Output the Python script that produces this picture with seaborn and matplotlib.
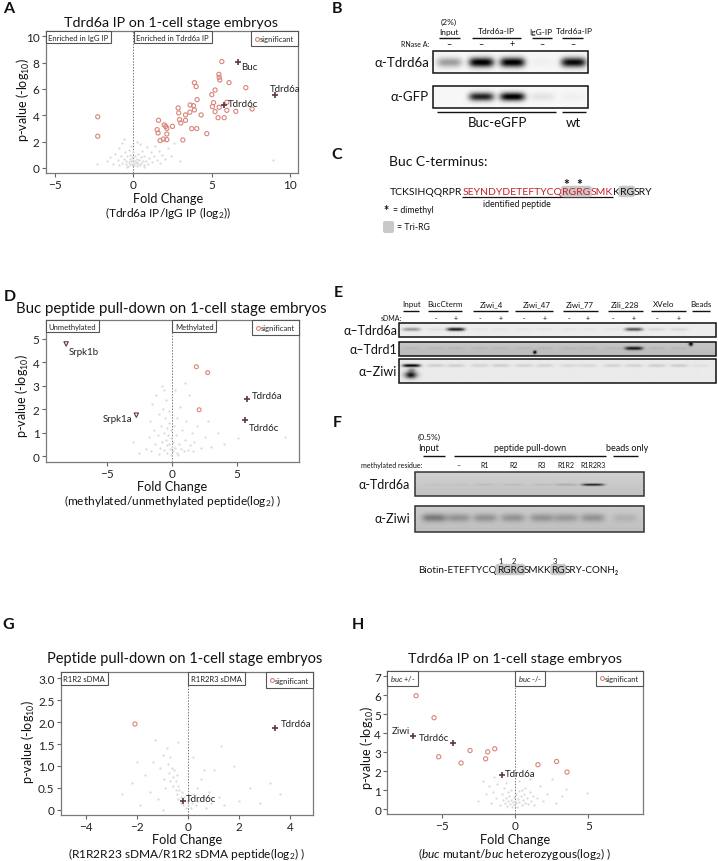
import numpy as np
import pandas as pd
import matplotlib
matplotlib.use('Agg')
import matplotlib.pyplot as plt
import seaborn as sns
from matplotlib.patches import Rectangle, FancyBboxPatch
from matplotlib.lines import Line2D

sns.set_theme(style='white')
plt.rcParams['font.family'] = ['Lato', 'DejaVu Sans']
plt.rcParams['mathtext.fontset'] = 'custom'
plt.rcParams['mathtext.rm'] = 'Lato'
plt.rcParams['mathtext.it'] = 'Lato:italic'
plt.rcParams['mathtext.bf'] = 'Lato:bold'

# ------------------------------------------------------------------ data
# Panel A : Tdrd6a IP vs IgG IP
A_gray_x = [-1.7,-1.5,-1.3,-1.2,-1.0,-0.9,-0.9,-0.8,-0.7,-0.7,-0.6,-0.55,-0.5,-0.45,-0.4,-0.35,-0.3,-0.3,
            -0.25,-0.2,-0.2,-0.15,-0.1,-0.1,-0.05,0.0,0.0,0.05,0.1,0.1,0.15,0.2,0.2,0.25,0.3,0.3,0.35,0.4,
            0.45,0.5,0.55,0.6,0.65,0.7,0.8,0.85,0.9,1.0,1.1,1.2,1.3,1.4,1.5,1.6,1.7,1.8,1.9,2.0,2.2,2.4,
            2.6,3.0,-2.3,-0.6,0.4,8.9,-0.15,0.7,-0.4,0.25]
A_gray_y = [0.5,0.8,0.3,1.1,0.6,1.5,0.2,0.9,0.4,1.9,0.7,1.2,0.3,0.55,0.9,0.15,0.45,1.4,
            0.7,0.3,1.0,0.55,0.2,0.8,0.4,0.6,1.2,0.25,0.5,0.9,0.35,0.7,0.15,0.45,1.1,0.3,0.6,0.2,
            0.85,0.4,1.3,0.55,0.25,0.9,0.5,1.6,0.3,0.75,1.2,0.45,0.9,1.7,0.6,1.3,0.35,1.0,2.1,0.7,1.5,0.9,
            1.9,0.5,0.3,2.2,1.8,0.6,1.7,0.1,0.05,2.0]
A_sig_x = [-2.28,-2.28,5.64,5.45,5.47,5.51,3.89,4.0,6.1,7.17,5.21,5.0,4.06,5.96,5.11,5.04,5.47,5.96,7.57,
           6.53,2.85,3.62,3.83,2.89,3.89,3.6,3.32,4.32,5.21,5.4,5.79,1.6,2.94,3.32,3.02,1.51,1.57,1.96,
           2.06,2.13,2.13,2.49,3.72,4.04,4.68,1.7,1.91,2.13,3.15]
A_sig_y = [3.89,2.41,8.08,7.11,6.89,6.68,6.48,6.18,6.48,6.1,5.92,5.57,5.19,4.99,4.96,4.66,4.61,4.38,4.48,
           4.30,4.56,4.78,4.73,4.18,4.41,4.23,4.03,4.03,4.28,3.82,3.82,3.62,3.67,3.62,3.42,2.91,2.66,3.27,
           3.16,3.01,2.58,3.16,2.99,2.99,2.61,2.08,2.2,2.15,2.13]
A_hit_names = ['Buc', 'Tdrd6a', 'Tdrd6c']
A_hit_x = [6.64, 9.02, 5.79]
A_hit_y = [8.08, 5.52, 4.81]

# Panel D : Buc peptide pull-down
D_gray_x = [-2.0,-1.8,-1.7,-1.6,-1.5,-1.4,-1.3,-1.2,-1.1,-1.0,-0.9,-0.85,-0.8,-0.75,-0.7,-0.65,-0.6,-0.55,
            -0.5,-0.45,-0.4,-0.4,-0.35,-0.3,-0.25,-0.2,-0.2,-0.15,-0.1,-0.05,0.0,0.05,0.1,0.15,0.2,0.3,0.35,
            0.4,0.5,0.6,0.7,0.8,0.9,1.0,1.1,1.2,1.3,1.4,1.5,1.6,1.7,1.9,2.2,2.5,3.0,3.5,4.0,5.1,8.7,-2.5,
            -3.0,0.25,-0.6,1.0,2.8,0.45,-0.1,-1.0]
D_gray_y = [0.3,0.8,1.5,0.2,2.2,1.1,0.5,2.6,0.9,1.8,0.35,1.3,3.0,0.6,2.0,1.0,0.25,1.6,
            0.7,2.4,0.45,1.2,0.15,0.9,1.9,0.5,1.4,0.3,0.75,1.1,0.4,0.2,0.6,1.3,0.35,0.9,0.15,
            1.6,0.5,2.1,0.3,1.1,0.2,0.7,1.5,0.25,2.6,0.45,1.0,0.2,0.6,1.3,0.35,0.8,0.4,1.0,0.5,0.75,0.82,0.15,
            0.6,2.8,2.8,3.1,1.5,0.05,0.05,0.1]
D_sig_x = [1.87, 2.74, 2.08]
D_sig_y = [3.80, 3.55, 1.97]
D_tri_names = ['Srpk1b', 'Srpk1a']
D_tri_x = [-8.13, -2.74]
D_tri_y = [4.77, 1.74]
D_hit_names = ['Tdrd6a', 'Tdrd6c']
D_hit_x = [5.72, 5.59]
D_hit_y = [2.41, 1.55]

# Panel G : R1R2R3 vs R1R2 sDMA peptide
G_gray_x = [-2.6,-2.2,-1.9,-1.7,-1.5,-1.4,-1.2,-1.1,-1.0,-0.95,-0.9,-0.85,-0.8,-0.75,-0.7,-0.7,-0.65,-0.6,
            -0.6,-0.55,-0.5,-0.5,-0.45,-0.45,-0.4,-0.4,-0.35,-0.3,-0.3,-0.25,-0.2,-0.15,-0.1,-0.05,0.0,0.05,
            0.1,0.15,0.2,0.3,0.35,0.4,0.5,0.6,0.7,0.8,0.9,1.0,1.2,1.4,1.8,2.0,2.4,2.8,3.2,3.6,-1.3,-0.4,0.2,
            -2.0,-1.0,0.6,1.3]
G_gray_y = [0.35,0.6,0.1,0.8,0.4,1.1,0.25,0.95,1.25,0.7,0.5,1.4,1.05,0.85,0.65,1.2,0.95,0.75,
            0.55,0.9,0.45,0.65,0.8,0.35,0.55,0.25,0.45,0.3,0.15,0.4,0.1,0.3,0.05,0.2,0.1,0.25,
            0.05,0.15,0.35,0.1,0.5,0.2,0.7,0.3,0.05,0.4,0.15,0.9,0.3,0.1,1.0,0.2,0.5,0.15,0.6,0.35,1.6,1.55,1.2,
            1.1,0.0,0.9,1.45]
G_sig_x = [-2.09]
G_sig_y = [1.96]
G_hit_names = ['Tdrd6a', 'Tdrd6c']
G_hit_x = [3.38, -0.2]
G_hit_y = [1.86, 0.2]

# Panel H : buc mutant vs heterozygous
H_gray_x = [-2.5,-2.2,-2.0,-1.8,-1.6,-1.5,-1.3,-1.2,-1.0,-0.9,-0.8,-0.75,-0.7,-0.6,-0.55,-0.5,-0.45,-0.4,
            -0.35,-0.3,-0.25,-0.2,-0.15,-0.1,-0.05,0.0,0.05,0.1,0.15,0.2,0.25,0.3,0.4,0.45,0.5,0.55,0.6,0.65,
            0.7,0.8,0.9,1.0,1.1,1.2,1.3,1.5,1.7,1.9,2.2,2.5,2.8,3.2,3.5,4.9,1.0,-1.4,0.3,-0.6]
H_gray_y = [0.4,1.5,0.8,1.2,0.3,0.9,0.6,1.3,0.2,0.8,0.5,1.1,0.3,0.6,0.15,0.9,0.4,0.7,
            0.25,1.0,0.5,0.1,0.35,0.65,0.2,0.45,0.8,0.3,0.1,0.55,0.95,0.35,0.7,0.2,1.0,0.5,0.8,0.3,
            1.1,0.6,0.25,0.9,0.45,0.7,0.2,0.6,1.2,0.4,0.8,1.6,0.3,0.7,1.05,0.85,1.6,1.7,1.5,1.4]
H_sig_x = [-6.73,-5.51,-5.19,-3.67,-3.06,-2.0,-1.86,-1.38,1.56,2.83,3.54]
H_sig_y = [5.98,4.82,2.76,2.43,3.09,2.65,3.02,3.18,2.34,2.51,1.95]
H_hit_names = ['Ziwi', 'Tdrd6c', 'Tdrd6a']
H_hit_x = [-6.96, -4.24, -0.88]
H_hit_y = [3.88, 3.48, 1.81]

# Blot band intensities (0 = none, 1 = saturated)
B_lane_labels = ['Input', 'Tdrd6a-IP', 'IgG-IP', 'Tdrd6a-IP']
B_rnase = ['–', '–', '+', '–', '–']
B_tdrd6a = [0.35, 1.0, 1.0, 0.03, 0.95]
B_gfp = [0.0, 0.85, 1.0, 0.08, 0.03]
E_cols = ['Input', 'BucCterm', 'Ziwi_4', 'Ziwi_47', 'Ziwi_77', 'Zili_228', 'XVelo', 'Beads']
E_sdma = ['-', '+', '-', '+', '-', '+', '-', '+', '-', '+', '-', '+']
E_tdrd6a = [0.35, 0.05, 0.85, 0.03, 0.03, 0.03, 0.03, 0.03, 0.03, 0.03, 0.6, 0.08, 0.08, 0.0]
E_tdrd1 = [0.04, 0.04, 0.04, 0.04, 0.04, 0.04, 0.04, 0.04, 0.04, 0.04, 0.7, 0.04, 0.04, 0.0]
E_ziwi = [0.95, 0.12, 0.12, 0.1, 0.12, 0.1, 0.1, 0.08, 0.08, 0.1, 0.1, 0.12, 0.12, 0.05]
F_lanes = ['–', 'R1', 'R2', 'R3', 'R1R2', 'R1R2R3']
F_tdrd6a = [0.03, 0.03, 0.05, 0.05, 0.05, 0.12, 0.7, 0.0]
F_ziwi = [0.3, 0.2, 0.2, 0.2, 0.2, 0.18, 0.2, 0.08]

# ------------------------------------------------------------------ figure
W, H = 718, 862
fig = plt.figure(figsize=(W / 100, H / 100), dpi=100)

RED = '#d8857a'
GRAYPT = '#d9d9d9'
HIT = '#5b3b3b'


def px_axes(l, t, r, b):
    return fig.add_axes([l / W, 1 - b / H, (r - l) / W, (b - t) / H])


def style_axes(ax, xlim, ylim, xt, yt, ytl=None):
    ax.set_xlim(*xlim)
    ax.set_ylim(*ylim)
    ax.set_xticks(xt)
    ax.set_yticks(yt)
    if ytl:
        ax.set_yticklabels(ytl)
    ax.tick_params(direction='out', length=3, width=0.8, color='#666', labelsize=8.5,
                   pad=1.5, left=True, bottom=True, labelcolor='#222')
    for sp in ax.spines.values():
        sp.set_color('#7a7a7a')
        sp.set_linewidth(0.9)
    ax.axvline(0, color='#777', ls=(0, (1.5, 1.5)), lw=0.7, zorder=1)
    ax.set_xlabel('')
    ax.set_ylabel('')


def region_box(ax, text, x, data_x=False):
    xyc = ('data', 'axes fraction') if data_x else 'axes fraction'
    ax.annotate(text, xy=(x, 1), xycoords=xyc, xytext=(2.0, -2.0), textcoords='offset points',
                ha='left', va='top', fontsize=5.5, color='#222', zorder=6,
                bbox=dict(boxstyle='square,pad=0.35', fc='white', ec='#555', lw=0.8))


def sig_legend(ax):
    h = Line2D([], [], marker='o', ls='', mfc='none', mec=RED, ms=2.8, mew=0.8)
    leg = ax.legend(handles=[h], labels=['significant'], loc='upper right', frameon=True,
                    fancybox=False, edgecolor='#555', fontsize=5.5, borderaxespad=0,
                    handlelength=0.5, handletextpad=0.1, borderpad=0.55, framealpha=1)
    leg.get_frame().set_linewidth(0.8)


def volcano(ax, gx, gy, sx, sy, hx, hy):
    sns.scatterplot(x=gx, y=gy, ax=ax, color=GRAYPT, s=2.5, linewidth=0, legend=False, zorder=2)
    sns.scatterplot(x=sx, y=sy, ax=ax, marker='o', s=9, facecolors='none', edgecolor=RED,
                    linewidth=0.8, legend=False, zorder=3)
    sns.scatterplot(x=hx, y=hy, ax=ax, marker='+', s=18, color=HIT, linewidth=1.2,
                    legend=False, zorder=4)


def label_points(ax, names, xs, ys, offs):
    for n, x, y, (dx, dy, ha) in zip(names, xs, ys, offs):
        ax.annotate(n, xy=(x, y), xytext=(dx, dy), textcoords='offset pixels', ha=ha,
                    va='center', fontsize=7, color='#222', zorder=5)


# ---- A
axA = px_axes(45.7, 32, 298, 174)
volcano(axA, A_gray_x, A_gray_y, A_sig_x, A_sig_y, A_hit_x, A_hit_y)
style_axes(axA, (-5.6, 10.5), (-0.38, 10.4), [-5, 0, 5, 10], [0, 2, 4, 6, 8, 10])
label_points(axA, A_hit_names, A_hit_x, A_hit_y, [(4, -5, 'left'), (10, 7, 'center'), (4, 1, 'left')])
region_box(axA, 'Enriched in IgG IP', 0)
region_box(axA, 'Enriched in Tdrd6a IP', 0, data_x=True)
sig_legend(axA)

# ---- D
axD = px_axes(45.7, 321, 299, 462.7)
sns.scatterplot(x=D_gray_x, y=D_gray_y, ax=axD, color=GRAYPT, s=2.5, linewidth=0, legend=False, zorder=2)
sns.scatterplot(x=D_sig_x, y=D_sig_y, ax=axD, marker='o', s=8, facecolors='none', edgecolor=RED,
                linewidth=0.8, legend=False, zorder=3)
sns.scatterplot(x=D_tri_x, y=D_tri_y, ax=axD, marker='v', s=10, facecolors='none', edgecolor=HIT,
                linewidth=0.8, legend=False, zorder=3)
sns.scatterplot(x=D_hit_x, y=D_hit_y, ax=axD, marker='+', s=16, color=HIT, linewidth=1.2,
                legend=False, zorder=4)
style_axes(axD, (-9.7, 9.75), (-0.24, 5.79), [-5, 0, 5], [0, 1, 2, 3, 4, 5])
label_points(axD, D_tri_names, D_tri_x, D_tri_y, [(3, -8, 'left'), (-4, -3, 'right')])
label_points(axD, D_hit_names, D_hit_x, D_hit_y, [(5, 4, 'left'), (4, -8, 'left')])
region_box(axD, 'Unmethylated', 0)
region_box(axD, 'Methylated', 0, data_x=True)
sig_legend(axD)

# ---- G
axG = px_axes(60.7, 673.3, 313.3, 816)
volcano(axG, G_gray_x, G_gray_y, G_sig_x, G_sig_y, G_hit_x, G_hit_y)
style_axes(axG, (-5.0, 4.9), (-0.12, 3.14), [-4, -2, 0, 2, 4], [0, 0.5, 1, 1.5, 2, 2.5, 3],
           ['0', '0.5', '1.0', '1.5', '2.0', '2.5', '3.0'])
label_points(axG, G_hit_names, G_hit_x, G_hit_y, [(6, 5, 'left'), (3, 2, 'left')])
region_box(axG, 'R1R2 sDMA', 0)
region_box(axG, 'R1R2R3 sDMA', 0, data_x=True)
sig_legend(axG)

# ---- H
axH = px_axes(387.3, 671.7, 643.3, 815)
volcano(axH, H_gray_x, H_gray_y, H_sig_x, H_sig_y, H_hit_x, H_hit_y)
style_axes(axH, (-8.69, 8.73), (-0.26, 7.3), [-5, 0, 5], [0, 1, 2, 3, 4, 5, 6, 7])
label_points(axH, H_hit_names, H_hit_x, H_hit_y, [(-3, 5, 'right'), (-3, 6, 'right'), (3, 1, 'left')])
region_box(axH, r'$\it{buc}$ +/-', 0)
region_box(axH, r'$\it{buc}$ -/-', 0, data_x=True)
sig_legend(axH)

# ------------------------------------------------------------------ overlay (pixel coords)
ov = fig.add_axes([0, 0, 1, 1])
ov.axis('off')
ov.set_xlim(0, W)
ov.set_ylim(H, 0)
ov.set_autoscale_on(False)


def T(x, y, s, fs=9, ha='center', va='center', **kw):
    return ov.text(x, y, s, fontsize=fs, ha=ha, va=va, color=kw.pop('color', '#111'), **kw)


def hline(x0, x1, y, lw=1.0, color='#111'):
    ov.plot([x0, x1], [y, y], color=color, lw=lw, solid_capstyle='butt')


# panel letters
for L, x, y in [('A', 9, 9), ('B', 337, 9), ('C', 337, 155), ('D', 10, 297), ('E', 338, 293),
                ('F', 337, 423), ('G', 8, 625), ('H', 358, 625)]:
    T(x, y, L, fs=11.5, weight='bold')

# titles and axis labels
T(171, 23, 'Tdrd6a IP on 1-cell stage embryos', fs=10.3)
T(171, 309, 'Buc peptide pull-down on 1-cell stage embryos', fs=10.8)
T(184.5, 659, 'Peptide pull-down on 1-cell stage embryos', fs=10.5)
T(515, 659, 'Tdrd6a IP on 1-cell stage embryos', fs=10.3)
ylab = r'p-value (-log$_{10}$)'
T(23.5, 100, ylab, fs=9, rotation=90)
T(22, 396, ylab, fs=9, rotation=90)
T(28, 742, ylab, fs=9, rotation=90)
T(367, 748, ylab, fs=9, rotation=90)
for cx, y1, y2, s in [(167.7, 199, 213.5, r'(Tdrd6a IP/IgG IP (log$_2$))'),
                      (172.3, 487, 501, r'(methylated/unmethylated peptide(log$_2$) )'),
                      (186.7, 840, 854, r'(R1R2R23 sDMA/R1R2 sDMA peptide(log$_2$) )'),
                      (515, 840, 854, r'($\it{buc}$ mutant/$\it{buc}$ heterozygous(log$_2$) )')]:
    T(cx, y1, 'Fold Change', fs=9.2)
    T(cx, y2, s, fs=8.6)


# ------------------------------------------------------------------ blots
def blot(x0, x1, y0, y1, bg, lanes, vals, yc, bw, bh, spots=(), ec='#111', shade=0.0):
    nx, ny = int((x1 - x0) * 4), int((y1 - y0) * 4)
    X, Y = np.meshgrid(np.linspace(x0, x1, nx), np.linspace(y0, y1, ny))
    img = np.full_like(X, bg) - shade * (Y - y0) / (y1 - y0)
    for lx, v in zip(lanes, vals):
        img -= v * np.exp(-((X - lx) / bw) ** 4 - ((Y - yc) / bh) ** 2)
    for sx, sy, rx, ry, v in spots:
        img -= v * np.exp(-((X - sx) / rx) ** 2 - ((Y - sy) / ry) ** 2)
    ov.imshow(np.clip(img, 0, 1), cmap='gray', vmin=0, vmax=1, extent=(x0, x1, y1, y0),
              aspect='auto', interpolation='bilinear', zorder=1)
    ov.add_patch(Rectangle((x0, y0), x1 - x0, y1 - y0, fill=False, ec=ec, lw=1.1, zorder=2))


# ---- B
B_lane_x = [449, 481, 512, 542, 573]
T(449, 22, '(2%)', fs=6)
for s, x in zip(B_lane_labels, [449, 496, 541, 574]):
    T(x, 32, s, fs=6)
for a, b in [(439, 460), (471.7, 521), (531.7, 552.3), (561.7, 583.3)]:
    hline(a, b, 38.5)
T(429, 44.5, 'RNase A:', fs=5, ha='right')
for s, x in zip(B_rnase, B_lane_x):
    T(x, 44.5, s, fs=6.5)
blot(432.7, 588.3, 52.3, 74, 0.97, B_lane_x, B_tdrd6a, 63.5, 12.5, 4.8)
blot(432.7, 588.3, 87.3, 109.3, 0.97, B_lane_x, B_gfp, 98, 12.5, 4.3)
T(429, 63, 'α-Tdrd6a', fs=9.5, ha='right')
T(429, 97, 'α-GFP', fs=9.5, ha='right')
hline(437, 555.7, 112.7)
hline(561.7, 586, 112.7)
T(497, 123, 'Buc-eGFP', fs=9.5)
T(573, 123, 'wt', fs=9.5)

# ---- C
T(389, 162.5, 'Buc C-terminus:', fs=10, ha='left')


def chain(x, y, pieces, fs):
    objs = []
    prev = None
    for s, col, hl in pieces:
        kw = dict(fontsize=fs, color=col, va='bottom', ha='left', zorder=4)
        if hl:
            kw['bbox'] = dict(boxstyle='round,pad=0.12,rounding_size=0.25', fc='#c9c9c9', ec='none')
        if prev is None:
            t = ov.text(x, y, s, **kw)
        else:
            t = ov.annotate(s, xy=(1, 0), xycoords=prev, xytext=(0, 0),
                            textcoords='offset points', **kw)
        objs.append(t)
        prev = t
    return objs


DARKRED = '#c8202a'
cseq = chain(390, 197, [('TCKSIHQQRPR', '#111', False), ('SEYNDYDETEFTYCQ', DARKRED, False),
                        ('RGRG', DARKRED, True), ('SMK', DARKRED, False), ('K', '#111', False),
                        ('RG', '#111', True), ('SRY', '#111', False)], 7.5)
for fx in (0.14, 0.62):
    ov.annotate('*', xy=(fx, 1), xycoords=cseq[2], xytext=(0, -2.0), textcoords='offset points',
                ha='center', va='bottom', fontsize=10, weight='bold', color='#111')
T(517, 205, 'identified peptide', fs=6.3)
T(386, 211.5, '*', fs=9, weight='bold')
T(393, 211, '= dimethyl', fs=6.3, ha='left')
ov.add_patch(FancyBboxPatch((383, 222), 11, 12, boxstyle='round,pad=0,rounding_size=2',
                            fc='#c9c9c9', ec='none'))
T(397, 228, '= Tri-RG', fs=6.3, ha='left')

# ---- E
E_col_x = [411.7, 445, 491, 536.7, 580, 625, 664, 700.7]
E_ul = [(403, 419), (428, 462), (472.7, 508), (515, 553), (563, 597.7), (608, 642.7),
        (650.7, 685.7), (691.7, 710)]
for s, x, (a, b) in zip(E_cols, E_col_x, E_ul):
    T(x, 305, s, fs=5.8)
    hline(a, b, 312.3)
E_sign_x = [436, 456, 480, 501, 524, 545, 569, 588, 612.7, 634, 657, 679]
T(401.7, 318.5, 'sDMA:', fs=5, ha='right')
for s, x in zip(E_sdma, E_sign_x):
    T(x, 318.5, s, fs=5)
E_lane_x = [411.7] + E_sign_x + [700.7]
blot(399.3, 716, 324, 338.3, 0.93, E_lane_x, E_tdrd6a, 331, 9, 1.6)
blot(399.3, 716, 342.7, 356.7, 0.78, E_lane_x, E_tdrd1, 349, 9, 1.7,
     spots=[(535, 353, 1.6, 1.6, 0.9), (691, 344.5, 2.0, 2.0, 0.9)], shade=0.05)
blot(399.3, 716, 360, 384, 0.92, E_lane_x, E_ziwi, 366.5, 9, 1.5,
     spots=[(411, 376, 6, 3.5, 0.85), (412, 371, 4, 2, 0.3)])
T(397, 331, 'α–Tdrd6a', fs=9, ha='right')
T(397, 350, 'α–Tdrd1', fs=9, ha='right')
T(397, 372, 'α–Ziwi', fs=9, ha='right')

# ---- F
T(429, 437.5, '(0.5%)', fs=6)
T(429, 449, 'Input', fs=6.5)
T(530, 449, 'peptide pull-down', fs=6.5)
T(626.7, 449, 'beads only', fs=6.5)
for a, b in [(422.7, 445), (454.3, 605.7), (613.3, 637.7)]:
    hline(a, b, 456.7)
T(422, 466, 'methylated residue:', fs=5, ha='right')
for s, x in zip(F_lanes, [458.3, 485, 513.3, 541.7, 565.7, 593.3]):
    T(x, 466, s, fs=5)
F_lane_x = [434, 458, 485, 513, 542, 566, 593, 625]
blot(415, 644, 473.3, 497.3, 0.82, F_lane_x, F_tdrd6a, 486, 11, 1.1, ec='#333', shade=0.06)
blot(415, 644, 506.7, 532.7, 0.8, F_lane_x, F_ziwi, 519, 12, 4, ec='#333', shade=0.05)
T(410, 485.5, 'α-Tdrd6a', fs=9, ha='right')
T(410, 519.5, 'α-Ziwi', fs=9, ha='right')
fseq = chain(418, 575, [('Biotin-ETEFTYCQ', '#111', False), ('RGRG', '#111', True),
                        ('SMKK', '#111', False), ('RG', '#111', True), ('SRY-CONH₂', '#111', False)], 7.1)
for obj, fx, lab in [(fseq[1], 0.14, '1'), (fseq[1], 0.62, '2'), (fseq[3], 0.25, '3')]:
    ov.annotate(lab, xy=(fx, 1), xycoords=obj, xytext=(0, 0.5), textcoords='offset points',
                ha='center', va='bottom', fontsize=5.5, color='#111')

# underline of identified peptide (measured from rendered text)
ov.set_xlim(0, W)
ov.set_ylim(H, 0)
fig.canvas.draw()
r = fig.canvas.get_renderer()
inv = ov.transData.inverted()
bb1 = cseq[1].get_window_extent(r)
bb2 = cseq[3].get_window_extent(r)
p1 = inv.transform((bb1.x0, bb1.y0))
p2 = inv.transform((bb2.x1, bb2.y0))
hline(p1[0], p2[0], max(p1[1], p2[1]) + 1.0, lw=0.9)

ov.set_xlim(0, W)
ov.set_ylim(H, 0)
ov.set_aspect('auto')

fig.savefig('out.png', dpi=100)
